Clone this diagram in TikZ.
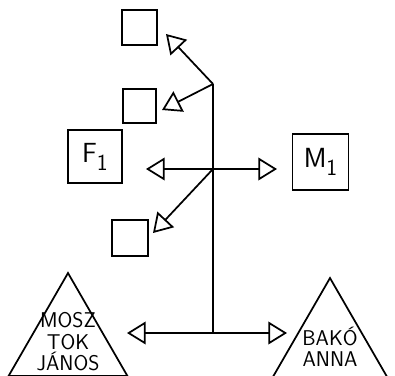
\documentclass[tikz,border=0pt]{standalone}
\usepackage{tikz}
\usetikzlibrary{shapes.geometric}
\usetikzlibrary{arrows.meta}
\usetikzlibrary{positioning}

\begin{document}
\begin{tikzpicture}[x=0.75pt,y=-0.75pt,line width=1.3pt,
box/.style={draw,inner sep=0pt,minimum width=#1,minimum height=#1,font=\sffamily\huge},
tri/.style={draw,regular polygon,regular polygon sides=3,minimum size=103pt,inner sep=0pt},
nev/.style={inner sep=0pt,align=center,font=\sffamily\fontsize{16}{16}\selectfont},
arr/.style={-{Triangle[open,length=14pt,width=17pt]}}]
\useasboundingbox (0,0) rectangle (395,375);
\clip (0,0) rectangle (395,375);
% boxes
\node[box=26pt] (ch1) at (139.5,27.5) {};
\node[box=25pt] (ch2) at (139.5,106) {};
\node[box=40pt] (F1) at (95,156.5) {F\raisebox{-6pt}{\LARGE 1}};
\node[box=42pt] (M1) at (320.5,162) {M\raisebox{-6pt}{\LARGE 1}};
\node[box=27pt] (ch3) at (130,238) {};
% parents
\node[tri] (apa) at (68,341.7) {};
\node[nev] (apanev) at (apa.center) {MOSZ\\TOK\\JÁNOS};
\node[tri] (anya) at (330,346.7) {};
\node[nev] (anyanev) at (anya.center) {BAKÓ\\ANNA};
% junctions and arrow tips
\coordinate (top) at (213,84);
\coordinate (mid) at (213,169);
\coordinate (bot) at (213,333);
\coordinate (t1) at (166,34);
\coordinate (t2) at (162,110);
\coordinate (tF) at (146,169);
\coordinate (tM) at (277,169);
\coordinate (t3) at (153,233);
\coordinate (tA) at (127,333);
\coordinate (tB) at (287,333);
\draw (top) -- (bot);
\draw[arr] (top) -- (t1);
\draw[arr] (top) -- (t2);
\draw[arr] (mid) -- (tF);
\draw[arr] (mid) -- (tM);
\draw[arr] (mid) -- (t3);
\draw[arr] (bot) -- (tA);
\draw[arr] (bot) -- (tB);
\end{tikzpicture}
\end{document}
